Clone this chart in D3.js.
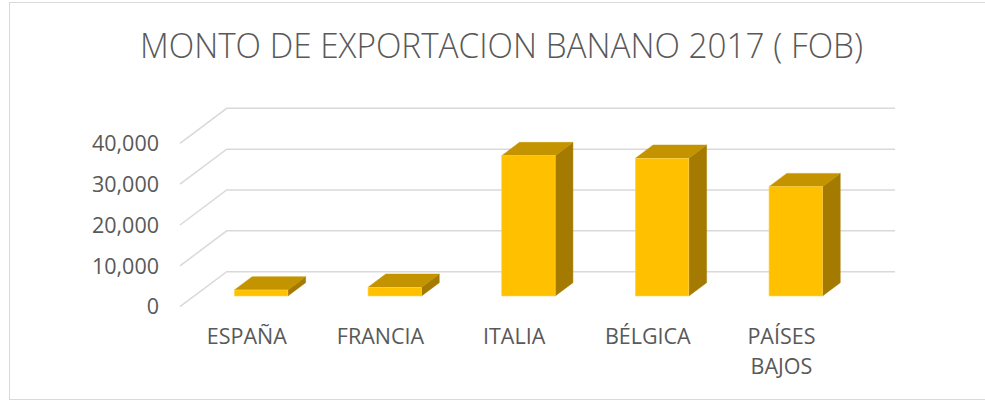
<!DOCTYPE html>
<html>
<head>
<meta charset="utf-8">
<script src="https://cdn.jsdelivr.net/npm/d3@7"></script>
<style>
  html, body { margin: 0; padding: 0; background: #fff; }
  svg { display: block; }
</style>
</head>
<body>
<svg id="chart" width="985" height="401"></svg>
<script>
// ---- data ----
const title = "MONTO DE EXPORTACION BANANO 2017 ( FOB)";
const categories = ["ESPAÑA", "FRANCIA", "ITALIA", "BÉLGICA", "PAÍSES BAJOS"];
const labelLines = [["ESPAÑA"], ["FRANCIA"], ["ITALIA"], ["BÉLGICA"], ["PAÍSES", "BAJOS"]];
const values = [1470, 2120, 34350, 33700, 26760];
const yTicks = [0, 10000, 20000, 30000, 40000];

// ---- layout ----
const svg = d3.select("#chart");
const X0 = 180, W = 668.3;          // front-left corner x, axis width
const Y0 = 306.7, H = 163.4;        // front baseline y, height of 0..40000
const DX = 46.7, DY = 35;           // full depth offset
const d0 = 0.306, d1 = 0.686;       // bar depth range
const textColor = "#595959";
const font = "'Open Sans', 'Liberation Sans', sans-serif";

const x = d3.scaleBand().domain(categories).range([0, W]).paddingInner(0.6).paddingOuter(0.3);
const y = d3.scaleLinear().domain([0, 40000]).range([Y0, Y0 - H]);
const P = (px, v, d) => [X0 + px + d * DX, y(v) - d * DY];

// chart border
svg.append("rect").attr("x", 9.5).attr("y", 2.5).attr("width", 990).attr("height", 397)
  .attr("fill", "none").attr("stroke", "#d9d9d9").attr("stroke-width", 1);

// title
svg.append("text").attr("x", 501.5).attr("y", 58.3).attr("text-anchor", "middle")
  .attr("font-family", font).attr("font-size", 34).attr("font-weight", 300).attr("fill", textColor)
  .attr("textLength", 723).attr("lengthAdjust", "spacingAndGlyphs")
  .text(title);

// gridlines: back wall and side wall
const grid = svg.append("g").attr("stroke", "#d9d9d9").attr("stroke-width", 1.5).attr("fill", "none");
yTicks.forEach(v => {
  const a = P(0, v, 0), b = P(0, v, 1), c = P(W, v, 1);
  grid.append("path").attr("d", `M${a}L${b}L${c}`);
});

// y labels
svg.append("g").selectAll("text").data(yTicks).join("text")
  .attr("x", 159).attr("y", d => y(d)).attr("dy", "0.36em")
  .attr("text-anchor", "end").attr("font-family", font).attr("font-size", 21.5)
  .attr("fill", textColor).text(d => d3.format(",")(d));

// bars
const bars = svg.append("g");
categories.forEach((c, i) => {
  const v = values[i];
  const xl = x(c), xr = x(c) + x.bandwidth();
  const g = bars.append("g");
  const poly = pts => "M" + pts.map(p => p.join(",")).join("L") + "Z";
  // right side
  g.append("path").attr("d", poly([P(xr, 0, d0), P(xr, 0, d1), P(xr, v, d1), P(xr, v, d0)]))
    .attr("fill", "#A47B00").attr("stroke", "#A47B00").attr("stroke-width", 0.5);
  // top
  g.append("path").attr("d", poly([P(xl, v, d0), P(xl, v, d1), P(xr, v, d1), P(xr, v, d0)]))
    .attr("fill", "#C49400").attr("stroke", "#C49400").attr("stroke-width", 0.5);
  // front
  const f1 = P(xl, v, d0), f2 = P(xr, 0, d0);
  g.append("rect").attr("x", f1[0]).attr("y", f1[1]).attr("width", f2[0] - f1[0]).attr("height", f2[1] - f1[1])
    .attr("fill", "#FFC000").attr("stroke", "#FFD54F").attr("stroke-width", 0.6);
});

// category labels
const lab = svg.append("g");
categories.forEach((c, i) => {
  const cx = X0 + x(c) + x.bandwidth() / 2;
  const t = lab.append("text").attr("text-anchor", "middle").attr("font-family", font)
    .attr("font-size", 21.5).attr("fill", textColor);
  labelLines[i].forEach((ln, j) => {
    t.append("tspan").attr("x", cx).attr("y", 344.3 + j * 30).text(ln);
  });
});
</script>
</body>
</html>
